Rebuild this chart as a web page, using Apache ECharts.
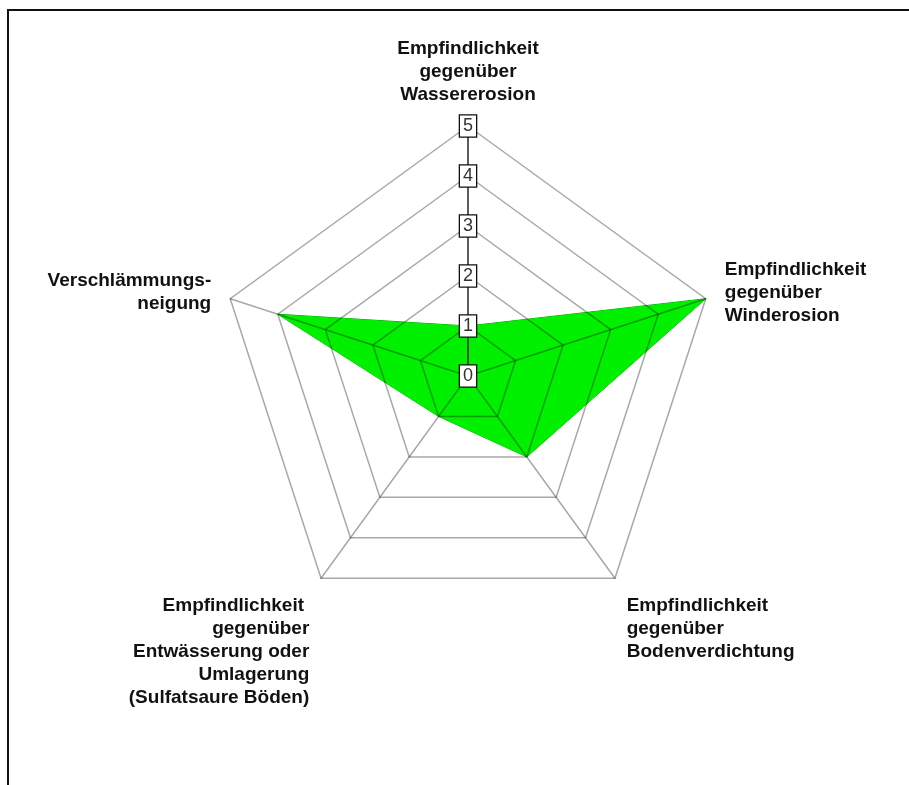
<!DOCTYPE html>
<html>
<head>
<meta charset="utf-8">
<script src="https://cdn.jsdelivr.net/npm/echarts@6/dist/echarts.min.js"></script>
<style>
  html, body { margin: 0; padding: 0; background: #fff; }
  #chart { position: absolute; left: 0; top: 0; width: 909px; height: 785px; }
  #frame { position: absolute; left: 7px; top: 9px; right: 0; bottom: 0;
           border-top: 2px solid #111; border-left: 2px solid #111; pointer-events: none; }
</style>
</head>
<body>
<div id="chart"></div>
<div id="frame"></div>
<script>
// Indicators in counter-clockwise order starting at the top (ECharts radar order)
const indicatorNames = [
  'Empfindlichkeit\ngegenüber\nWassererosion',
  'Verschlämmungs-\nneigung',
  'Empfindlichkeit \ngegenüber\nEntwässerung oder\nUmlagerung\n(Sulfatsaure Böden)',
  'Empfindlichkeit\ngegenüber\nBodenverdichtung',
  'Empfindlichkeit\ngegenüber\nWinderosion'
];
const values = [1, 4, 1, 2, 5];
const axisMin = 0;
const axisMax = 5;
const tickCount = 5;

const FONT = '"Liberation Sans", Arial, Helvetica, sans-serif';
const gridColor = 'rgba(0,0,0,0.34)';

const nameAlign = [
  { align: 'center', verticalAlign: 'bottom' },
  { align: 'right', verticalAlign: 'middle' },
  { align: 'right', verticalAlign: 'top' },
  { align: 'left', verticalAlign: 'top' },
  { align: 'left', verticalAlign: 'middle' }
];

const indicator = indicatorNames.map((n, i) => {
  const ind = {
    name: n,
    min: axisMin,
    max: axisMax,
    nameTextStyle: nameAlign[i]
  };
  if (i === 0) {
    ind.axisLabel = {
      show: true,
      margin: 0,
      align: 'center',
      verticalAlign: 'middle',
      fontSize: 18,
      fontFamily: FONT,
      color: '#333',
      backgroundColor: '#fff',
      borderColor: '#111',
      borderWidth: 1.3,
      padding: [2, 3, 1, 3]
    };
    ind.axisLine = { show: true, lineStyle: { color: '#333', width: 1.6 } };
  }
  return ind;
});

const chart = echarts.init(document.getElementById('chart'), null, { renderer: 'canvas' });
chart.setOption({
  backgroundColor: '#fff',
  animation: false,
  radar: {
    z: 3,
    center: [468, 376],
    radius: 250,
    startAngle: 90,
    shape: 'polygon',
    splitNumber: tickCount,
    nameGap: 20,
    axisName: {
      color: '#111',
      fontSize: 19,
      fontWeight: 'bold',
      fontFamily: FONT,
      lineHeight: 23
    },
    splitArea: { show: false },
    splitLine: { show: true, lineStyle: { color: gridColor, width: 1.5 } },
    axisLine: { show: true, lineStyle: { color: gridColor, width: 1.5 } },
    axisTick: { show: false },
    axisLabel: { show: false },
    indicator: indicator
  },
  series: [{
    type: 'radar',
    z: 1,
    symbol: 'none',
    lineStyle: { color: '#00a800', width: 1 },
    areaStyle: { color: '#00f000', opacity: 1 },
    data: [{ value: values }]
  }]
});
</script>
</body>
</html>
